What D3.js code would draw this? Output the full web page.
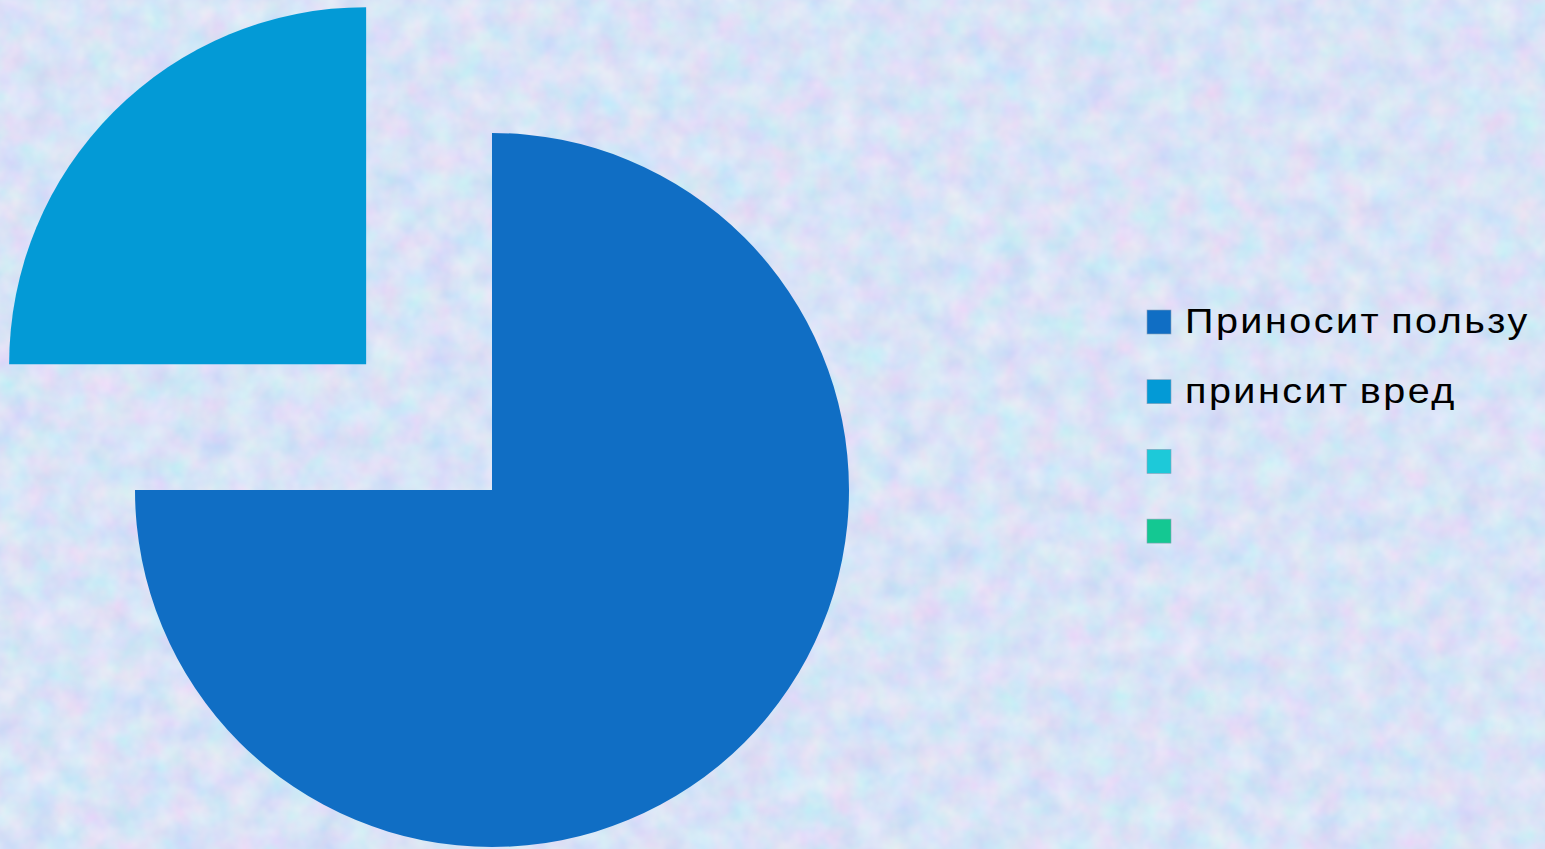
<!DOCTYPE html>
<html><head><meta charset="utf-8">
<script src="https://cdn.jsdelivr.net/npm/d3@7"></script>
<style>html,body{margin:0;padding:0;overflow:hidden;}svg{display:block;}</style>
</head><body>
<svg id="chart" width="1545" height="849"></svg>
<script>
const categories = ["Приносит пользу", "принсит вред", "", ""];
const values = [75, 25, 0, 0];
const colors = ["#106EC4", "#039AD6", "#1DC9D9", "#14C892"];
const explode = [0, 178, 0, 0];

const W = 1545, H = 849;
const svg = d3.select("#chart");
const defs = svg.append("defs");
const f = defs.append("filter").attr("id","tex").attr("x",0).attr("y",0).attr("width","100%").attr("height","100%");
f.append("feTurbulence").attr("type","fractalNoise").attr("baseFrequency","0.035").attr("numOctaves",3).attr("seed",7).attr("result","n");
f.append("feColorMatrix").attr("in","n").attr("type","matrix")
  .attr("values","0.38 0 0 0 0.5  0 0.26 0 0 0.64  0 0 0.1 0 0.875  0 0 0 0 1");
svg.append("rect").attr("width",W).attr("height",H).attr("fill","#C5D3F1");
svg.append("rect").attr("width",W).attr("height",H).attr("filter","url(#tex)");

const cx = 492, cy = 490, r = 357;
const pie = d3.pie().sort(null).value(d => d)(values);
const arc = d3.arc().innerRadius(0).outerRadius(r);
const g = svg.append("g").attr("transform",`translate(${cx},${cy})`);
g.selectAll("path").data(pie).join("path")
  .attr("d", arc)
  .attr("fill", (d,i) => colors[i])
  .attr("transform", (d,i) => {
    const a = (d.startAngle + d.endAngle)/2;
    const e = explode[i];
    return `translate(${e*Math.sin(a)},${-e*Math.cos(a)})`;
  });

const lg = svg.append("g").attr("transform","translate(1147,310)");
const rows = lg.selectAll("g").data(categories).join("g")
  .attr("transform",(d,i)=>`translate(0,${i*69.7})`);
rows.append("rect").attr("width",24).attr("height",24).attr("fill",(d,i)=>colors[i])
  .attr("stroke","#8aa0b8").attr("stroke-width",0.6);
rows.append("g").attr("transform","translate(38,23) scale(1.13,1)")
  .append("text").text(d=>d)
  .attr("font-family","Liberation Sans, Arial, sans-serif").attr("font-size",35)
  .attr("letter-spacing",2.2).attr("word-spacing",-3).attr("fill","#000");
</script>
</body></html>
